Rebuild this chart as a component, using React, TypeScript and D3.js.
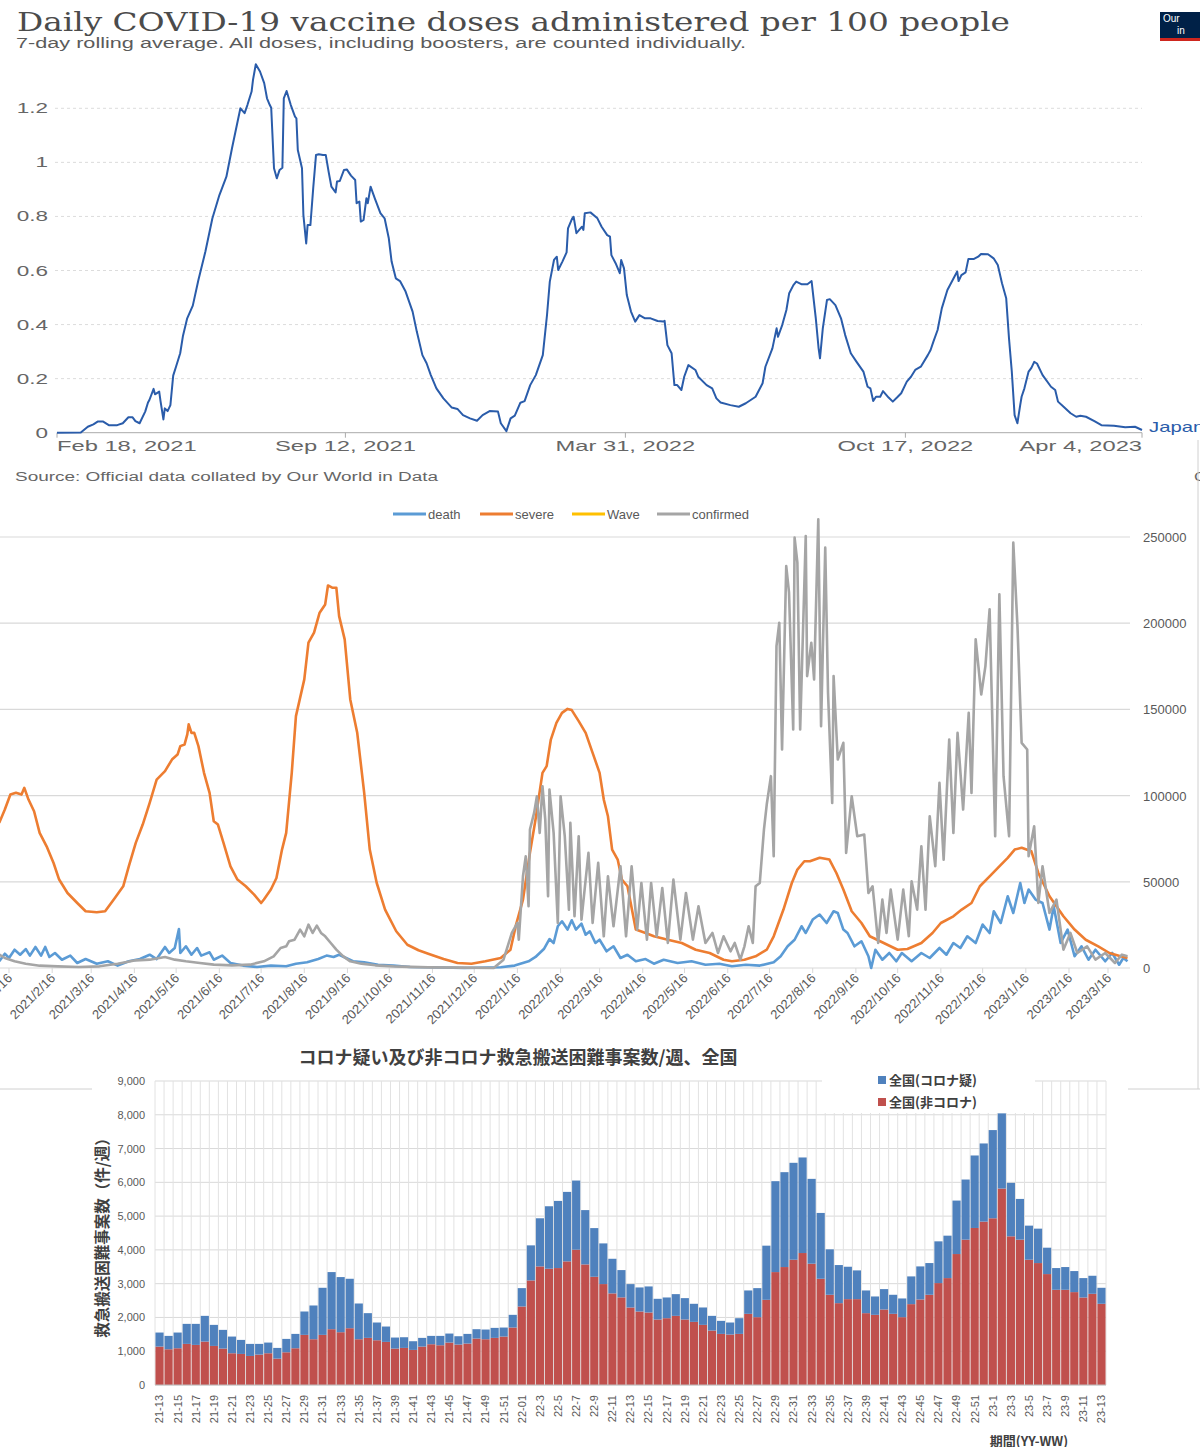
import React, { useEffect, useRef } from 'react';
import * as d3 from 'd3';

// ---------- chart 1: OWID vaccine doses (days since 2021-02-18, doses per 100) ----------
const vaxTitle = 'Daily COVID-19 vaccine doses administered per 100 people';
const vaxSubtitle = '7-day rolling average. All doses, including boosters, are counted individually.';
const vaxSource = 'Source: Official data collated by Our World in Data';
const vaxTickDates = ['2021-02-18', '2021-09-12', '2022-03-31', '2022-10-17', '2023-04-04'];
const vaxTickLabels = ['Feb 18, 2021', 'Sep 12, 2021', 'Mar 31, 2022', 'Oct 17, 2022', 'Apr 4, 2023'];
const vaxYTicks = [0, 0.2, 0.4, 0.6, 0.8, 1, 1.2];
const vaxDoses: [number, number][] = [
  [0, 0], [17, 0.001], [22, 0.022], [26, 0.031], [29, 0.041], [33, 0.041], [37, 0.028], [43, 0.028],
  [47, 0.035], [51, 0.057], [54, 0.057], [56, 0.043], [59, 0.035], [63, 0.078], [65, 0.112], [66, 0.121],
  [69, 0.162], [70, 0.142], [73, 0.152], [74, 0.115], [76, 0.049], [77, 0.09], [79, 0.08], [81, 0.102],
  [83, 0.211], [85, 0.244], [88, 0.294], [90, 0.359], [93, 0.423], [97, 0.47], [101, 0.565], [106, 0.67],
  [111, 0.793], [116, 0.879], [121, 0.947], [125, 1.052], [129, 1.151], [131, 1.2], [134, 1.182], [136, 1.212],
  [139, 1.262], [140, 1.305], [142, 1.363], [145, 1.336], [148, 1.293], [150, 1.237], [152, 1.212], [153, 1.202],
  [155, 0.978], [157, 0.941], [159, 0.972], [161, 0.98], [162, 1.237], [164, 1.264], [167, 1.212], [170, 1.169],
  [171, 1.163], [172, 1.046], [175, 0.978], [176, 0.805], [178, 0.7], [179, 0.768], [181, 0.768], [183, 0.904],
  [185, 1.027], [187, 1.03], [190, 1.027], [192, 1.027], [194, 0.966], [196, 0.91], [199, 0.889], [200, 0.929],
  [202, 0.931], [205, 0.972], [207, 0.974], [210, 0.951], [213, 0.935], [214, 0.849], [216, 0.855], [217, 0.781],
  [219, 0.787], [221, 0.867], [222, 0.849], [224, 0.91], [227, 0.867], [231, 0.812], [234, 0.793], [237, 0.719],
  [239, 0.633], [242, 0.571], [245, 0.561], [249, 0.522], [254, 0.448], [257, 0.374], [261, 0.287], [264, 0.257],
  [267, 0.213], [271, 0.164], [276, 0.127], [282, 0.093], [286, 0.088], [290, 0.065], [295, 0.053], [300, 0.044],
  [304, 0.065], [309, 0.08], [315, 0.078], [317, 0.035], [321, 0.006], [324, 0.053], [327, 0.063], [331, 0.111],
  [334, 0.117], [338, 0.176], [342, 0.213], [347, 0.287], [350, 0.435], [352, 0.559], [355, 0.639], [357, 0.651],
  [358, 0.602], [361, 0.633], [364, 0.667], [365, 0.756], [368, 0.793], [369, 0.799], [371, 0.738], [375, 0.762],
  [376, 0.75], [377, 0.812], [381, 0.815], [386, 0.793], [389, 0.762], [393, 0.731], [395, 0.725], [396, 0.657],
  [399, 0.627], [402, 0.59], [403, 0.639], [405, 0.608], [407, 0.509], [410, 0.448], [413, 0.411], [416, 0.435],
  [420, 0.423], [424, 0.423], [429, 0.413], [433, 0.411], [434, 0.414], [436, 0.324], [439, 0.294], [441, 0.176],
  [443, 0.176], [446, 0.158], [448, 0.207], [451, 0.25], [456, 0.232], [458, 0.207], [464, 0.176], [468, 0.164],
  [471, 0.127], [474, 0.112], [481, 0.102], [487, 0.096], [492, 0.109], [499, 0.133], [504, 0.183], [506, 0.244],
  [511, 0.312], [514, 0.386], [515, 0.355], [518, 0.398], [521, 0.454], [523, 0.516], [526, 0.546], [528, 0.559],
  [532, 0.549], [536, 0.549], [539, 0.561], [542, 0.423], [544, 0.312], [545, 0.275], [547, 0.386], [550, 0.491],
  [552, 0.494], [556, 0.472], [560, 0.423], [563, 0.361], [567, 0.294], [571, 0.263], [576, 0.226], [579, 0.17],
  [581, 0.164], [583, 0.117], [585, 0.133], [588, 0.133], [590, 0.154], [594, 0.13], [597, 0.115], [600, 0.13],
  [603, 0.146], [607, 0.189], [610, 0.207], [613, 0.232], [617, 0.244], [622, 0.287], [624, 0.306], [626, 0.337],
  [629, 0.38], [632, 0.46], [636, 0.528], [641, 0.577], [643, 0.596], [644, 0.561], [646, 0.583], [649, 0.593],
  [651, 0.643], [655, 0.643], [658, 0.651], [660, 0.661], [665, 0.66], [669, 0.645], [672, 0.62], [675, 0.553],
  [678, 0.497], [680, 0.349], [682, 0.226], [684, 0.065], [686, 0.035], [688, 0.102], [689, 0.133], [691, 0.164],
  [694, 0.226], [696, 0.24], [698, 0.262], [700, 0.256], [704, 0.213], [710, 0.17], [713, 0.158], [715, 0.115],
  [719, 0.096], [724, 0.072], [728, 0.059], [731, 0.063], [735, 0.059], [741, 0.043], [746, 0.028], [755, 0.026],
  [763, 0.02], [770, 0.022], [775, 0.01],
];

// ---------- chart 2: death / severe / confirmed (days since 2021-01-16) ----------
const caseTickLabels = [
  '2021/1/16', '2021/2/16', '2021/3/16', '2021/4/16', '2021/5/16', '2021/6/16', '2021/7/16', '2021/8/16',
  '2021/9/16', '2021/10/16', '2021/11/16', '2021/12/16', '2022/1/16', '2022/2/16', '2022/3/16', '2022/4/16',
  '2022/5/16', '2022/6/16', '2022/7/16', '2022/8/16', '2022/9/16', '2022/10/16', '2022/11/16', '2022/12/16',
  '2023/1/16', '2023/2/16', '2023/3/16',
];
const caseYTicks = [0, 50000, 100000, 150000, 200000, 250000];
const legendNames = ['death', 'severe', 'Wave', 'confirmed'];
const legendColors = ['#5b9bd5', '#ed7d31', '#ffc000', '#a5a5a5'];
// severe & death use the (cropped) left axis 0-2500
const severeSeries: [number, number][] = [
  [-7, 842], [-3, 919], [1, 1006], [5, 1016], [9, 1006], [11, 1045], [14, 977], [18, 909], [22, 784], [27, 706],
  [32, 609], [36, 513], [42, 435], [49, 377], [55, 329], [63, 323], [69, 329], [76, 406], [82, 474], [86, 590],
  [91, 726], [96, 832], [101, 958], [106, 1093], [112, 1142], [117, 1209], [121, 1238], [123, 1287], [126, 1296],
  [128, 1355], [129, 1413], [131, 1364], [133, 1364], [136, 1287], [140, 1132], [144, 1016], [147, 851], [150, 832],
  [154, 726], [159, 590], [164, 513], [170, 474], [176, 426], [181, 377], [183, 397], [188, 455], [192, 522],
  [196, 687], [199, 784], [203, 1132], [206, 1461], [212, 1674], [215, 1887], [219, 1945], [223, 2061], [227, 2109],
  [229, 2219], [232, 2206], [235, 2206], [237, 2041], [241, 1906], [245, 1558], [250, 1364], [255, 1016], [259, 687],
  [264, 493], [270, 339], [278, 213], [286, 135], [294, 103], [301, 83], [312, 52], [322, 29], [332, 25], [342, 39],
  [353, 58], [360, 106], [364, 250], [369, 397], [374, 668], [378, 861], [383, 1132], [386, 1171], [389, 1325],
  [393, 1422], [397, 1480], [401, 1503], [404, 1496], [409, 1432], [414, 1364], [419, 1248], [424, 1132], [427, 977],
  [430, 880], [433, 687], [437, 629], [440, 513], [444, 474], [450, 223], [457, 203], [463, 184], [473, 164],
  [483, 145], [493, 106], [503, 87], [513, 48], [519, 39], [528, 48], [536, 68], [544, 106], [549, 184], [556, 339],
  [562, 493], [566, 571], [571, 619], [575, 619], [582, 639], [589, 629], [594, 551], [599, 455], [605, 329],
  [612, 261], [618, 184], [628, 145], [638, 106], [645, 110], [655, 145], [663, 203], [669, 261], [678, 300],
  [684, 339], [691, 377], [697, 474], [704, 532], [711, 590], [717, 639], [722, 687], [727, 697], [734, 677],
  [739, 551], [747, 416], [757, 300], [765, 223], [773, 164], [782, 126], [790, 87], [798, 68], [803, 58],
];
const deathSeries: [number, number][] = [
  [-7, 39], [-3, 83], [0, 58], [4, 106], [8, 77], [12, 110], [15, 72], [19, 122], [23, 72], [26, 122], [29, 64],
  [33, 87], [38, 48], [44, 72], [49, 29], [55, 52], [63, 25], [71, 39], [78, 14], [86, 39], [94, 52], [101, 77],
  [106, 52], [112, 122], [115, 87], [119, 116], [122, 226], [123, 87], [127, 126], [131, 77], [135, 116], [138, 72],
  [144, 91], [147, 48], [153, 72], [159, 29], [168, 14], [178, 6], [188, 14], [199, 10], [206, 25], [214, 33],
  [222, 52], [228, 72], [233, 64], [237, 77], [242, 58], [247, 39], [255, 33], [265, 19], [276, 14], [288, 6],
  [301, 4], [327, 0], [353, 4], [363, 14], [373, 39], [378, 64], [384, 110], [388, 168], [391, 145], [394, 242],
  [397, 271], [401, 223], [404, 277], [407, 223], [411, 257], [414, 193], [417, 213], [421, 145], [424, 164],
  [429, 97], [434, 126], [439, 58], [444, 77], [450, 39], [457, 52], [463, 25], [470, 48], [480, 29], [490, 39],
  [500, 19], [510, 25], [519, 10], [529, 19], [539, 14], [549, 33], [554, 68], [559, 126], [564, 164], [569, 242],
  [572, 203], [577, 281], [582, 310], [587, 261], [592, 329], [595, 319], [599, 223], [602, 203], [607, 126],
  [612, 155], [617, 68], [619, 0], [622, 106], [627, 48], [632, 87], [637, 39], [641, 87], [648, 39], [655, 87],
  [661, 58], [668, 116], [673, 77], [678, 145], [683, 116], [688, 184], [694, 145], [699, 252], [704, 203],
  [707, 329], [712, 261], [717, 416], [721, 319], [726, 493], [729, 377], [732, 455], [737, 397], [742, 377],
  [747, 223], [750, 358], [755, 145], [760, 223], [765, 68], [770, 126], [775, 48], [780, 106], [787, 39],
  [792, 87], [797, 19], [800, 58], [803, 39],
];
const confirmedSeries: [number, number][] = [
  [-7, 7740], [-3, 5805], [4, 3870], [12, 2515], [22, 1355], [35, 968], [50, 580], [65, 968], [78, 2515],
  [91, 4450], [101, 4838], [112, 6386], [119, 4838], [127, 3870], [137, 2903], [147, 1935], [160, 1548], [173, 1935],
  [183, 3870], [190, 6773], [195, 11610], [199, 12578], [201, 15480], [205, 16448], [209, 22253], [212, 18383],
  [215, 25155], [218, 20318], [221, 24575], [224, 20318], [227, 18383], [231, 14513], [235, 10643], [240, 6773],
  [245, 3870], [253, 2515], [263, 1548], [276, 968], [301, 387], [327, 194], [348, 0], [355, 4838], [361, 20318],
  [365, 26123], [366, 16448], [369, 53213], [371, 64823], [373, 35798], [374, 80303], [377, 89978], [379, 99653],
  [381, 78368], [383, 105458], [385, 86108], [387, 41603], [388, 103523], [391, 78368], [394, 26123], [396, 99653],
  [399, 76433], [402, 33863], [403, 84173], [406, 29993], [409, 76433], [411, 28058], [416, 66758], [419, 26123],
  [423, 60953], [427, 18383], [430, 53213], [434, 24188], [439, 59018], [443, 18383], [447, 59018], [451, 22253],
  [454, 49343], [458, 16448], [461, 49343], [465, 18383], [469, 46440], [473, 14513], [477, 51278], [482, 16448],
  [486, 43538], [491, 16448], [495, 35798], [500, 14513], [505, 20318], [509, 8708], [513, 18383], [518, 9675],
  [521, 14513], [525, 4838], [528, 12578], [531, 24188], [534, 14513], [536, 47408], [539, 49343], [542, 80303],
  [544, 94815], [547, 111263], [549, 64823], [551, 186728], [553, 200273], [555, 126743], [558, 233168],
  [560, 217688], [563, 138353], [564, 249615], [566, 235103], [568, 138353], [572, 250583], [573, 169313],
  [576, 188663], [578, 167378], [581, 260258], [583, 140288], [586, 243810], [588, 159638], [591, 95783],
  [592, 169313], [595, 120938], [599, 130613], [601, 66758], [605, 99653], [609, 76433], [614, 77400], [617, 43538],
  [620, 47408], [624, 14513], [627, 39668], [630, 20318], [633, 45473], [638, 16448], [642, 45473], [646, 18383],
  [648, 50310], [652, 33863], [655, 70628], [658, 33863], [661, 88043], [665, 59018], [668, 107393], [671, 62888],
  [675, 132548], [678, 78368], [681, 136418], [685, 91913], [689, 148028], [691, 101588], [694, 190598],
  [698, 158670], [701, 175118], [704, 208013], [708, 76433], [711, 216720], [714, 111263], [718, 76433],
  [721, 246713], [724, 198338], [727, 130613], [731, 126743], [732, 64823], [736, 82238], [739, 37733],
  [742, 59018], [747, 31928], [752, 39668], [757, 10643], [762, 20318], [767, 8708], [774, 12578], [780, 4838],
  [787, 8708], [794, 2903], [799, 7740], [803, 6773],
];
const waveSeries: [number, number][] = [];

// ---------- chart 3: weekly ambulance transport difficulty ----------
const transportTitle = 'コロナ疑い及び非コロナ救急搬送困難事案数/週、全国';
const weekLabels = [
  '21-13', '21-14', '21-15', '21-16', '21-17', '21-18', '21-19', '21-20', '21-21', '21-22', '21-23', '21-24',
  '21-25', '21-26', '21-27', '21-28', '21-29', '21-30', '21-31', '21-32', '21-33', '21-34', '21-35', '21-36',
  '21-37', '21-38', '21-39', '21-40', '21-41', '21-42', '21-43', '21-44', '21-45', '21-46', '21-47', '21-48',
  '21-49', '21-50', '21-51', '21-52', '22-01', '22-2', '22-3', '22-4', '22-5', '22-6', '22-7', '22-8', '22-9',
  '22-10', '22-11', '22-12', '22-13', '22-14', '22-15', '22-16', '22-17', '22-18', '22-19', '22-20', '22-21',
  '22-22', '22-23', '22-24', '22-25', '22-26', '22-27', '22-28', '22-29', '22-30', '22-31', '22-32', '22-33',
  '22-34', '22-35', '22-36', '22-37', '22-38', '22-39', '22-40', '22-41', '22-42', '22-43', '22-44', '22-45',
  '22-46', '22-47', '22-48', '22-49', '22-50', '22-51', '22-52', '23-1', '23-2', '23-3', '23-4', '23-5', '23-6',
  '23-7', '23-8', '23-9', '23-10', '23-11', '23-12', '23-13',
];
const nonCovidCases = [
  1137, 1058, 1088, 1217, 1187, 1286, 1157, 1078, 940, 920, 860, 900, 940, 781, 969, 1088, 1484, 1355, 1484, 1652,
  1563, 1681, 1355, 1395, 1325, 1276, 1078, 1098, 1039, 1137, 1207, 1177, 1256, 1197, 1227, 1375, 1355, 1395, 1434,
  1701, 2324, 3096, 3511, 3442, 3462, 3660, 4006, 3570, 3204, 2988, 2712, 2594, 2295, 2176, 2146, 1939, 1978, 2047,
  1939, 1869, 1780, 1612, 1513, 1494, 1513, 2107, 2008, 2522, 3343, 3492, 3709, 3907, 3591, 3145, 2671, 2423, 2542,
  2542, 2127, 2077, 2235, 2107, 2008, 2394, 2532, 2671, 3017, 3165, 3877, 4303, 4649, 4837, 4936, 5816, 4402, 4303,
  3709, 3610, 3284, 2819, 2819, 2750, 2591, 2700, 2404,
];
const suspectedCovidCases = [
  416, 396, 465, 593, 623, 761, 623, 554, 494, 415, 357, 317, 316, 317, 396, 425, 692, 999, 1394, 1691, 1632, 1464,
  1058, 732, 525, 455, 327, 316, 257, 258, 247, 277, 267, 247, 286, 277, 287, 296, 267, 376, 544, 1038, 1425, 1850,
  1988, 2057, 2047, 1608, 1441, 1204, 1025, 808, 692, 712, 772, 613, 613, 643, 633, 535, 515, 435, 386, 356, 465,
  692, 860, 1603, 2691, 2809, 2869, 2829, 2512, 1949, 1345, 1128, 959, 851, 672, 544, 604, 564, 554, 821, 979, 939,
  1236, 1256, 1583, 1780, 2146, 2314, 2611, 2226, 1582, 1206, 1009, 1019, 781, 643, 673, 623, 574, 534, 474,
];
const transportYTicks = [0, 1000, 2000, 3000, 4000, 5000, 6000, 7000, 8000, 9000];
const transportKeys = ['nonCovid', 'suspected'];
const transportLegend = ['全国(コロナ疑)', '全国(非コロナ)'];
const transportColors: Record<string, string> = { suspected: '#4f81bd', nonCovid: '#c0504d' };

const DAY = 864e5;
const SANS = '"Liberation Sans", Arial, sans-serif';
const JP = '"Noto Sans CJK JP", sans-serif';

const parseYmd = (s: string) => {
  const [y, m, d] = s.split(/[-/]/).map(Number);
  return new Date(Date.UTC(y, m - 1, d));
};

// OWID image is horizontally stretched, so sans text is widened
const wideText = (g: any, x: number, y: number, txt: string, size: number, fill: string, anchor = 'start', sx = 1.58) =>
  g.append('text')
    .attr('transform', `translate(${x},${y}) scale(${sx},1)`)
    .attr('text-anchor', anchor)
    .style('font-family', SANS)
    .style('font-size', `${size}px`)
    .attr('fill', fill)
    .text(txt);

function drawVaccineChart(svg: any) {
  const g = svg.append('g');
  const start = parseYmd(vaxTickDates[0]).getTime();
  const x = d3.scaleUtc()
    .domain([parseYmd(vaxTickDates[0]), parseYmd(vaxTickDates[vaxTickDates.length - 1])])
    .range([57, 1142]);
  const y = d3.scaleLinear().domain([0, 1.2]).range([432.7, 108.3]);

  g.append('text')
    .attr('x', 17).attr('y', 31)
    .attr('textLength', 993).attr('lengthAdjust', 'spacingAndGlyphs')
    .style('font-family', '"DejaVu Serif", serif').style('font-size', '26px')
    .attr('fill', '#4b4b4b').text(vaxTitle);
  g.append('text')
    .attr('x', 16).attr('y', 48)
    .attr('textLength', 730).attr('lengthAdjust', 'spacingAndGlyphs')
    .style('font-family', SANS).style('font-size', '14px')
    .attr('fill', '#5b5b5b').text(vaxSubtitle);

  // logo
  g.append('rect').attr('x', 1160).attr('y', 12).attr('width', 42).attr('height', 29).attr('fill', '#002147');
  g.append('rect').attr('x', 1160).attr('y', 38).attr('width', 42).attr('height', 3).attr('fill', '#ce261e');
  g.append('text').attr('x', 1163).attr('y', 22).style('font-family', SANS).style('font-size', '10px')
    .attr('fill', '#fff').text('Our');
  g.append('text').attr('x', 1177).attr('y', 34).style('font-family', SANS).style('font-size', '10px')
    .attr('fill', '#fff').text('in');

  // grid + y labels
  vaxYTicks.forEach((v) => {
    if (v > 0) {
      g.append('line')
        .attr('x1', 55).attr('x2', 1142).attr('y1', y(v)).attr('y2', y(v))
        .attr('stroke', '#dcdcdc').attr('stroke-dasharray', '3,3');
    }
    wideText(g, 48, y(v) + 5, String(v), 15, '#666', 'end', 1.5);
  });

  // x axis
  g.append('line').attr('x1', 57).attr('x2', 1142).attr('y1', y(0)).attr('y2', y(0)).attr('stroke', '#aaa');
  vaxTickDates.forEach((d, i) => {
    const px = x(parseYmd(d));
    g.append('line').attr('x1', px).attr('x2', px).attr('y1', y(0)).attr('y2', y(0) + 5).attr('stroke', '#aaa');
    const anchor = i === 0 ? 'start' : i === vaxTickDates.length - 1 ? 'end' : 'middle';
    wideText(g, px, 451, vaxTickLabels[i], 15, '#666', anchor);
  });

  const line = d3.line<[number, number]>()
    .x((d) => x(new Date(start + d[0] * DAY)))
    .y((d) => y(d[1]));
  g.append('path')
    .datum(vaxDoses)
    .attr('d', line)
    .attr('fill', 'none')
    .attr('stroke', '#2a5caa')
    .attr('stroke-width', 2)
    .attr('stroke-linejoin', 'round');

  wideText(g, 1149, 432, 'Japan', 14, '#2a5caa', 'start', 1.45);
  g.append('text')
    .attr('x', 15).attr('y', 481)
    .attr('textLength', 423).attr('lengthAdjust', 'spacingAndGlyphs')
    .style('font-family', SANS).style('font-size', '12px')
    .attr('fill', '#666').text(vaxSource);
  wideText(g, 1194, 481, 'CC BY', 12, '#666', 'start', 1.4);
}

function drawCasesChart(svg: any) {
  const g = svg.append('g');
  const start = parseYmd(caseTickLabels[0]).getTime();
  const x = d3.scaleUtc()
    .domain([parseYmd(caseTickLabels[0]), parseYmd(caseTickLabels[caseTickLabels.length - 1])])
    .range([9, 1108]);
  const yRight = d3.scaleLinear().domain([0, 250000]).range([968, 537]);
  const yLeft = d3.scaleLinear().domain([0, 2500]).range([968, 537]);

  // legend
  const legendX = [393, 480, 572, 657];
  legendNames.forEach((name, i) => {
    g.append('line')
      .attr('x1', legendX[i]).attr('x2', legendX[i] + 33).attr('y1', 514).attr('y2', 514)
      .attr('stroke', legendColors[i]).attr('stroke-width', 3);
    g.append('text')
      .attr('x', legendX[i] + 35).attr('y', 519)
      .style('font-family', SANS).style('font-size', '13px')
      .attr('fill', '#595959').text(name);
  });

  // gridlines and right labels
  caseYTicks.forEach((v) => {
    g.append('line')
      .attr('x1', 0).attr('x2', 1130).attr('y1', yRight(v)).attr('y2', yRight(v))
      .attr('stroke', '#d9d9d9').attr('stroke-width', 1.2);
    g.append('text')
      .attr('x', 1143).attr('y', yRight(v) + 5)
      .style('font-family', SANS).style('font-size', '13px')
      .attr('fill', '#595959').text(String(v));
  });

  // x ticks and rotated labels
  caseTickLabels.forEach((lab) => {
    const px = x(parseYmd(lab));
    g.append('line').attr('x1', px).attr('x2', px).attr('y1', 968).attr('y2', 973).attr('stroke', '#d9d9d9');
    g.append('text')
      .attr('transform', `translate(${px + 4},${979}) rotate(-45)`)
      .attr('text-anchor', 'end')
      .style('font-family', SANS).style('font-size', '13px')
      .attr('fill', '#595959').text(lab);
  });

  g.append('clipPath').attr('id', 'cases-clip')
    .append('rect').attr('x', 0).attr('y', 500).attr('width', 1135).attr('height', 475);
  const plot = g.append('g').attr('clip-path', 'url(#cases-clip)');

  const toX = (d: [number, number]) => x(new Date(start + d[0] * DAY));
  const leftLine = d3.line<[number, number]>().x(toX).y((d) => yLeft(d[1]));
  const rightLine = d3.line<[number, number]>().x(toX).y((d) => yRight(d[1]));

  const series: [[number, number][], any, string][] = [
    [deathSeries, leftLine, legendColors[0]],
    [severeSeries, leftLine, legendColors[1]],
    [waveSeries, leftLine, legendColors[2]],
    [confirmedSeries, rightLine, legendColors[3]],
  ];
  series.forEach(([data, gen, color]) => {
    if (!data.length) return;
    plot.append('path')
      .datum(data)
      .attr('d', gen)
      .attr('fill', 'none')
      .attr('stroke', color)
      .attr('stroke-width', 2.6)
      .attr('stroke-linejoin', 'round');
  });
}

function drawTransportChart(svg: any) {
  const g = svg.append('g');
  const x = d3.scaleBand<string>().domain(weekLabels).range([155, 1106]).paddingInner(0.1).paddingOuter(0.05);
  const y = d3.scaleLinear().domain([0, 9000]).range([1385, 1081]);
  const half = (x.step() - x.bandwidth()) / 2;

  g.append('text')
    .attr('x', 518).attr('y', 1064).attr('text-anchor', 'middle')
    .style('font-family', JP).style('font-size', '18px').style('font-weight', 'bold')
    .attr('fill', '#404040').text(transportTitle);

  // gridlines
  transportYTicks.forEach((v) => {
    g.append('line')
      .attr('x1', 155).attr('x2', 1106).attr('y1', y(v)).attr('y2', y(v))
      .attr('stroke', '#d9d9d9');
    g.append('text')
      .attr('x', 145).attr('y', y(v) + 4).attr('text-anchor', 'end')
      .style('font-family', SANS).style('font-size', '11px')
      .attr('fill', '#595959').text(d3.format(',')(v));
  });
  weekLabels.forEach((w) => {
    const bx = (x(w) as number) - half;
    g.append('line').attr('x1', bx).attr('x2', bx).attr('y1', 1081).attr('y2', 1385).attr('stroke', '#e2e2e2');
  });
  g.append('line').attr('x1', 1106).attr('x2', 1106).attr('y1', 1081).attr('y2', 1385).attr('stroke', '#e2e2e2');

  const table = weekLabels.map((w, i) => ({ week: w, nonCovid: nonCovidCases[i], suspected: suspectedCovidCases[i] }));
  const stacked = d3.stack<any>().keys(transportKeys)(table);
  g.selectAll('g.layer')
    .data(stacked)
    .enter()
    .append('g')
    .attr('fill', (d: any) => transportColors[d.key])
    .selectAll('rect')
    .data((d: any) => d)
    .enter()
    .append('rect')
    .attr('x', (d: any) => x(d.data.week) as number)
    .attr('width', x.bandwidth())
    .attr('y', (d: any) => y(d[1]))
    .attr('height', (d: any) => y(d[0]) - y(d[1]));

  g.append('line').attr('x1', 155).attr('x2', 1106).attr('y1', 1385).attr('y2', 1385).attr('stroke', '#bfbfbf');

  // x labels (every other week)
  weekLabels.forEach((w, i) => {
    if (i % 2) return;
    const cx = (x(w) as number) + x.bandwidth() / 2;
    g.append('text')
      .attr('transform', `translate(${cx},1395) rotate(-90)`)
      .attr('text-anchor', 'end')
      .attr('dy', '0.35em')
      .style('font-family', SANS).style('font-size', '11px')
      .attr('fill', '#595959').text(w);
  });

  g.append('text')
    .attr('transform', 'translate(103,1234) rotate(-90)')
    .attr('text-anchor', 'middle').attr('dy', '0.35em')
    .style('font-family', JP).style('font-size', '15.5px').style('font-weight', 'bold')
    .attr('fill', '#404040').text('救急搬送困難事案数（件/週）');
  g.append('text')
    .attr('x', 1029).attr('y', 1446).attr('text-anchor', 'middle')
    .style('font-family', JP).style('font-size', '13px').style('font-weight', 'bold')
    .attr('fill', '#404040').text('期間(YY-WW)');

  // legend
  g.append('rect').attr('x', 822).attr('y', 1065).attr('width', 213).attr('height', 48).attr('fill', '#fff');
  const legendKeys = ['suspected', 'nonCovid'];
  transportLegend.forEach((lab, i) => {
    g.append('rect')
      .attr('x', 878).attr('y', 1076 + i * 22).attr('width', 8).attr('height', 8)
      .attr('fill', transportColors[legendKeys[i]]);
    g.append('text')
      .attr('x', 889).attr('y', 1085 + i * 22)
      .style('font-family', JP).style('font-size', '13px').style('font-weight', 'bold')
      .attr('fill', '#404040').text(lab);
  });
}

export default function App() {
  const svgRef = useRef<SVGSVGElement | null>(null);

  useEffect(() => {
    if (!svgRef.current) return;
    const svg = d3.select(svgRef.current);
    svg.selectAll('*').remove();

    svg.append('rect').attr('width', 1200).attr('height', 1447).attr('fill', '#fff');
    drawVaccineChart(svg);
    drawCasesChart(svg);
    drawTransportChart(svg);

    // frame edges of the pasted images
    svg.append('line').attr('x1', 0).attr('x2', 92).attr('y1', 1089).attr('y2', 1089).attr('stroke', '#d0d0d0');
    svg.append('line').attr('x1', 1128).attr('x2', 1200).attr('y1', 1089).attr('y2', 1089).attr('stroke', '#d0d0d0');
    svg.append('line').attr('x1', 1198).attr('x2', 1198).attr('y1', 440).attr('y2', 1089).attr('stroke', '#d0d0d0');
  }, []);

  return (
    <div style={{ position: 'absolute', left: 0, top: 0 }}>
      <svg ref={svgRef} width={1200} height={1447} style={{ display: 'block' }} />
    </div>
  );
}
